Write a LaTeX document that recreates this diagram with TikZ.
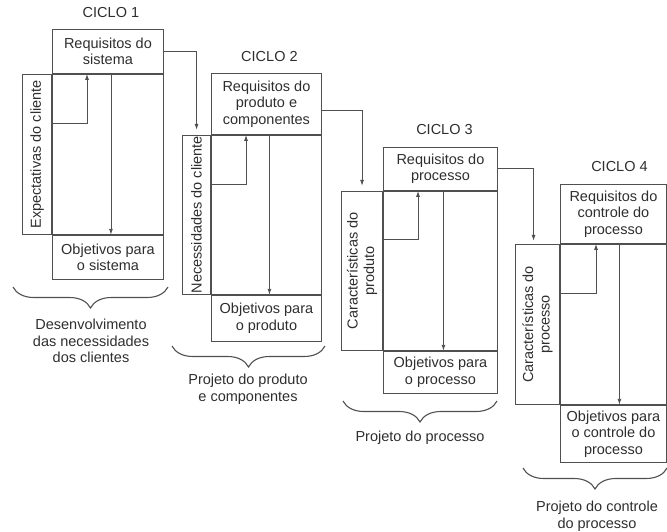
\documentclass[tikz,border=0pt]{standalone}
\usepackage{fontspec}
\setmainfont{Liberation Sans}
\usetikzlibrary{arrows.meta,decorations.pathreplacing}
\definecolor{linegray}{HTML}{505050}
\definecolor{textgray}{HTML}{2E2E2E}
\tikzset{
  every node/.style={text=textgray, font=\fontsize{14.5}{16.5}\selectfont},
  cell/.style={draw=linegray, line width=0.9pt, inner sep=0pt, align=center},
  arr/.style={draw=linegray, line width=0.9pt, -{Latex[length=6pt,width=4pt]}},
  brc/.style={draw=linegray, line width=1.1pt, decorate, decoration={brace, mirror, amplitude=21pt}},
}

\begin{document}
\begin{tikzpicture}[x=1pt, y=-1pt]
			\useasboundingbox (0,0) rectangle (667,532);

			% ciclo 1
			\node[cell, anchor=north west, minimum width=111pt, minimum height=44pt] (req1) at (52,29) {Requisitos do\\sistema};
			\node[cell, anchor=north west, minimum width=111pt, minimum height=160pt] (mid1) at (req1.south west) {};
			\node[cell, anchor=north west, minimum width=111pt, minimum height=44pt] (obj1) at (mid1.south west) {Objetivos para\\o sistema};
			\node[cell, rotate=90, anchor=south east, minimum width=160pt, minimum height=29pt] (ent1) at (mid1.north west) {Expectativas do cliente};
			\node (ciclo1) at ([xshift=3pt, yshift=16pt]req1.north) {CICLO 1};

			% ciclo 2
			\node[cell, anchor=north west, minimum width=110pt, minimum height=61pt] (req2) at (211,73) {Requisitos do\\produto e\\componentes};
			\node[cell, anchor=north west, minimum width=110pt, minimum height=159pt] (mid2) at (req2.south west) {};
			\node[cell, anchor=north west, minimum width=110pt, minimum height=46pt] (obj2) at (mid2.south west) {Objetivos para\\o produto};
			\node[cell, rotate=90, anchor=south east, minimum width=159pt, minimum height=28pt] (ent2) at (mid2.north west) {Necessidades do cliente};
			\node (ciclo2) at ([xshift=3pt, yshift=16pt]req2.north) {CICLO 2};

			% ciclo 3
			\node[cell, anchor=north west, minimum width=114pt, minimum height=43pt] (req3) at (383,147) {Requisitos do\\processo};
			\node[cell, anchor=north west, minimum width=114pt, minimum height=159pt] (mid3) at (req3.south west) {};
			\node[cell, anchor=north west, minimum width=114pt, minimum height=42pt] (obj3) at (mid3.south west) {Objetivos para\\o processo};
			\node[cell, rotate=90, anchor=south east, minimum width=159pt, minimum height=41pt] (ent3) at (mid3.north west) {Características do\\produto};
			\node (ciclo3) at ([xshift=4pt, yshift=17pt]req3.north) {CICLO 3};

			% ciclo 4
			\node[cell, anchor=north west, minimum width=106pt, minimum height=59pt] (req4) at (560,184) {Requisitos do\\controle do\\processo};
			\node[cell, anchor=north west, minimum width=106pt, minimum height=160pt] (mid4) at (req4.south west) {};
			\node[cell, anchor=north west, minimum width=106pt, minimum height=57pt] (obj4) at (mid4.south west) {Objetivos para\\o controle do\\processo};
			\node[cell, rotate=90, anchor=south east, minimum width=160pt, minimum height=44pt] (ent4) at (mid4.north west) {Características do\\processo};
			\node (ciclo4) at ([xshift=6pt, yshift=17pt]req4.north) {CICLO 4};

			% setas dentro de cada ciclo
			\draw[arr] ([xshift=3pt]req1.south) -- ([xshift=3pt]obj1.north);
			\draw[arr] ([yshift=-50pt]mid1.north west) -| ([xshift=35pt]req1.south west);
			\draw[arr] ([xshift=3pt]req2.south) -- ([xshift=3pt]obj2.north);
			\draw[arr] ([yshift=-50pt]mid2.north west) -| ([xshift=35pt]req2.south west);
			\draw[arr] ([xshift=3pt]req3.south) -- ([xshift=3pt]obj3.north);
			\draw[arr] ([yshift=-49pt]mid3.north west) -| ([xshift=35pt]req3.south west);
			\draw[arr] ([xshift=6pt]req4.south) -- ([xshift=6pt]obj4.north);
			\draw[arr] ([yshift=-50pt]mid4.north west) -| ([xshift=36pt]req4.south west);

			% ligacoes entre ciclos
			\draw[arr, shorten >=5pt] (req1.east) -| (ent2.east);
			\draw[arr, shorten >=5pt] ([yshift=-7pt]req2.east) -| (ent3.east);
			\draw[arr, shorten >=3pt] (req3.east) -| ([xshift=-4pt]ent4.east);

			% chaves
			\draw[brc] (13,287) -- (168,287);
			\node[anchor=north, align=center, inner sep=0pt] (fase1) at (91,319) {Desenvolvimento\\das necessidades\\dos clientes};
			\draw[brc] (172,346) -- (325,346);
			\node[anchor=north, align=center, inner sep=0pt] (fase2) at (248,374) {Projeto do produto\\e componentes};
			\draw[brc] (343,401) -- (497,401);
			\node[anchor=north, align=center, inner sep=0pt] (fase3) at (420,431) {Projeto do processo};
			\draw[brc] (523,468) -- (667,468);
			\node[anchor=north, align=center, inner sep=0pt] (fase4) at (597,501) {Projeto do controle\\do processo};
		\end{tikzpicture}
\end{document}
